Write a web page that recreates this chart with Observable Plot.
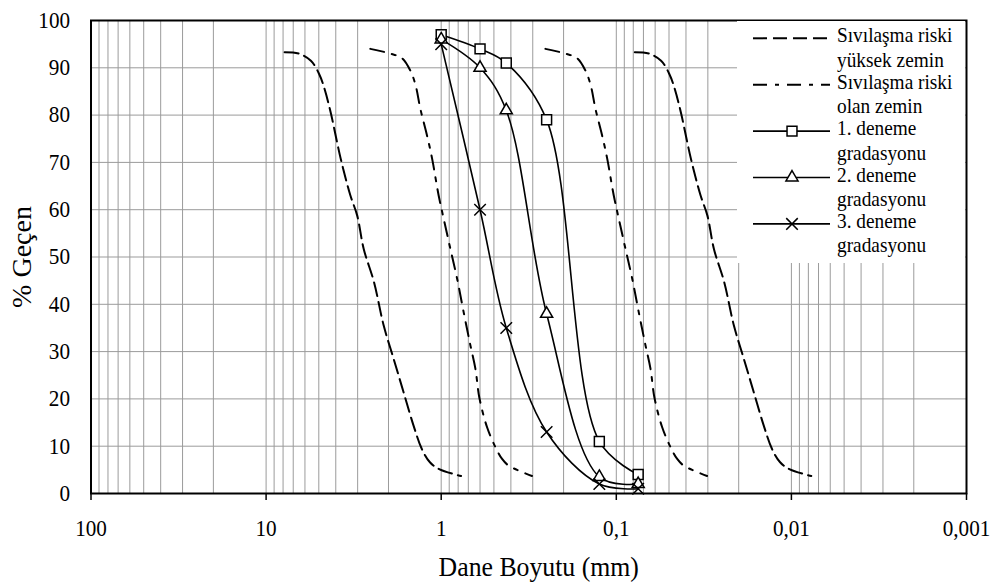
<!DOCTYPE html>
<html>
<head>
<meta charset="utf-8">
<script src="https://cdn.jsdelivr.net/npm/d3@7"></script>
<script src="https://cdn.jsdelivr.net/npm/@observablehq/plot@0.6"></script>
<style>
  body { margin: 0; background: #fff; }
  #chart { position: relative; width: 997px; height: 583px; }
  #chart svg, #chart text { font-family: "Liberation Serif", "Times New Roman", serif !important; }
  #legend { position: absolute; left: 737px; top: 21px; }
</style>
</head>
<body>
<div id="chart"></div>
<script>
// Elek açıklıkları (mm) ve her deneme gradasyonu için geçen yüzdeler
const elekBoyutu = [1, 0.6, 0.425, 0.25, 0.125, 0.075];
const deneme1 = [97, 94, 91, 79, 11, 4];
const deneme2 = [96, 90, 81, 38, 3.5, 2];
const deneme3 = [95, 60, 35, 13, 2, 1];

// Sıvılaşma riski yüksek zemin: sol ve sağ sınır eğrileri
const yuksekGecen = [93.3, 93.0, 91.5, 88.7, 85.9, 80.6, 70.8, 63.0, 58.8, 51.7, 44.7, 35.5, 28.5, 21.4, 14.4, 9.4, 6.6, 5.1, 3.7];
const yuksekSolBoyut = [7.84, 6.5, 5.55, 4.98, 4.67, 4.28, 3.75, 3.3, 3.02, 2.77, 2.42, 2.13, 1.87, 1.64, 1.44, 1.29, 1.16, 1.02, 0.77];
const yuksekSagBoyut = [0.0784, 0.065, 0.0555, 0.0498, 0.0467, 0.0428, 0.0375, 0.033, 0.0302, 0.0277, 0.0242, 0.0213, 0.0187, 0.0164, 0.0144, 0.0129, 0.0116, 0.0102, 0.0077];

// Sıvılaşma riski olan zemin: sol ve sağ sınır eğrileri
const olanGecen = [94.0, 93.0, 92.0, 89.4, 86.3, 81.3, 75.7, 70.8, 63.0, 58.1, 51.7, 45.4, 38.3, 31.3, 26.4, 20.2, 14.0, 9.8, 7.3, 5.9, 3.7];
const olanSolBoyut = [2.54, 1.95, 1.67, 1.5, 1.4, 1.315, 1.205, 1.127, 1.034, 0.968, 0.886, 0.811, 0.744, 0.681, 0.638, 0.605, 0.547, 0.49, 0.449, 0.412, 0.303];
const olanSagBoyut = [0.254, 0.195, 0.167, 0.15, 0.14, 0.1315, 0.1205, 0.1127, 0.1034, 0.0968, 0.0886, 0.0811, 0.0744, 0.0681, 0.0638, 0.0605, 0.0547, 0.049, 0.0449, 0.0412, 0.0303];

// Eksen işaretleri
const xTicks = [100, 10, 1, 0.1, 0.01, 0.001];
const xTickLabels = ["100", "10", "1", "0,1", "0,01", "0,001"];
const yTicks = [0, 10, 20, 30, 40, 50, 60, 70, 80, 90, 100];

// Gösterge metinleri
const legendLabels = [
  ["Sıvılaşma riski", "yüksek zemin"],
  ["Sıvılaşma riski", "olan zemin"],
  ["1. deneme", "gradasyonu"],
  ["2. deneme", "gradasyonu"],
  ["3. deneme", "gradasyonu"]
];

const rows = (xs, ys) => xs.map((x, i) => ({x, y: ys[i]}));

// Logaritmik ara ızgara çizgileri (her on katlık aralıkta 1..9)
const minorGrid = [];
for (let e = -3; e <= 1; e++) for (let k = 1; k <= 9; k++) minorGrid.push(k * Math.pow(10, e));
minorGrid.push(100);

const FONT = '"Liberation Serif", "Times New Roman", serif';
const GRID = "#9b9b9b";
const DASH = "14,6";
const DASHDOT = "14,8,4,8";
const SYM = {
  square: {symbol: "square", r: 5.6},
  triangle: {symbol: "triangle", r: 4.5},
  times: {symbol: "times", r: 5.3}
};

const solid = (data) => Plot.line(data, {x: "x", y: "y", stroke: "#000", strokeWidth: 1.6, curve: "catmull-rom"});
const dots = (data, s) => Plot.dot(data, {x: "x", y: "y", symbol: () => s.symbol, r: s.r, stroke: "#000", strokeWidth: 1.5, fill: "#fff"});
const boundary = (data, dash) => Plot.line(data, {x: "x", y: "y", stroke: "#000", strokeWidth: 2, strokeDasharray: dash, curve: "catmull-rom"});

const plot = Plot.plot({
  width: 997,
  height: 583,
  marginLeft: 90.5,
  marginRight: 31,
  marginTop: 20,
  marginBottom: 90,
  style: {fontFamily: FONT, background: "#fff", color: "#000"},
  x: {type: "log", domain: [100, 0.001]},
  y: {domain: [0, 100]},
  marks: [
    Plot.ruleX(minorGrid, {stroke: GRID, strokeWidth: 1}),
    Plot.ruleY(yTicks, {stroke: GRID, strokeWidth: 1}),

    boundary(rows(yuksekSolBoyut, yuksekGecen), DASH),
    boundary(rows(yuksekSagBoyut, yuksekGecen), DASH),
    boundary(rows(olanSolBoyut, olanGecen), DASHDOT),
    boundary(rows(olanSagBoyut, olanGecen), DASHDOT),

    solid(rows(elekBoyutu, deneme1)),
    solid(rows(elekBoyutu, deneme2)),
    solid(rows(elekBoyutu, deneme3)),
    dots(rows(elekBoyutu, deneme1), SYM.square),
    dots(rows(elekBoyutu, deneme2), SYM.triangle),
    dots(rows(elekBoyutu, deneme3), SYM.times),

    Plot.axisX({ticks: xTicks, tickFormat: d => xTickLabels[xTicks.indexOf(d)], tickSize: 7, tickPadding: 19, fontSize: 23, fontFamily: FONT, label: null, stroke: "#000", strokeWidth: 1.5}),
    Plot.axisY({ticks: yTicks, tickSize: 0, tickPadding: 21, fontSize: 23, fontFamily: FONT, label: null}),
    Plot.frame({stroke: "#000", strokeWidth: 2}),

    Plot.text(["Dane Boyutu (mm)"], {frameAnchor: "bottom", lineAnchor: "bottom", textAnchor: "middle", dy: 82, dx: 10, fontSize: 28, fontFamily: FONT, fill: "#000"}),
    Plot.text(["% Geçen"], {frameAnchor: "left", lineAnchor: "bottom", textAnchor: "middle", rotate: -90, dx: -60, fontSize: 28, fontFamily: FONT, fill: "#000"})
  ]
});

const chart = document.getElementById("chart");
chart.appendChild(plot);

// Gösterge: çizgi örnekleri ve iki satırlı açıklamalar
const lg = d3.select(chart).append("svg")
  .attr("id", "legend")
  .attr("width", 228)
  .attr("height", 242);
lg.append("rect").attr("width", 228).attr("height", 242).attr("fill", "#fff");

const legendStyles = [
  {dash: DASH, width: 2},
  {dash: DASHDOT, width: 2},
  {width: 1.6, sym: d3.symbolSquare, r: SYM.square.r},
  {width: 1.6, sym: d3.symbolTriangle, r: SYM.triangle.r},
  {width: 1.6, sym: d3.symbolTimes, r: SYM.times.r}
];

legendLabels.forEach((lines, i) => {
  const base = 21.3 + 46.4 * i;
  const st = legendStyles[i];
  const g = lg.append("g");
  g.append("line")
    .attr("x1", 16).attr("x2", 93)
    .attr("y1", base - 4).attr("y2", base - 4)
    .attr("stroke", "#000").attr("stroke-width", st.width)
    .attr("stroke-dasharray", st.dash || null);
  if (st.sym) {
    g.append("path")
      .attr("transform", `translate(55,${base - 4})`)
      .attr("d", d3.symbol(st.sym, Math.PI * st.r * st.r)())
      .attr("fill", "#fff").attr("stroke", "#000").attr("stroke-width", 1.5);
  }
  lines.forEach((txt, j) => {
    g.append("text")
      .attr("x", 100).attr("y", base + 24.5 * j)
      .attr("font-size", 21).attr("fill", "#000")
      .text(txt);
  });
});

// Yatay yazıları hafifçe daralt (döndürülmüş eksen başlığı hariç)
const condense = (sel, k) => document.querySelectorAll(sel).forEach(t => {
  if ((t.getAttribute("transform") || "").includes("rotate")) return;
  const L = t.getComputedTextLength();
  if (L > 0) {
    t.setAttribute("textLength", (L * k).toFixed(1));
    t.setAttribute("lengthAdjust", "spacingAndGlyphs");
  }
});
condense("#chart > svg:first-of-type text", 0.92);
condense("#legend text", 0.92);
</script>
</body>
</html>
